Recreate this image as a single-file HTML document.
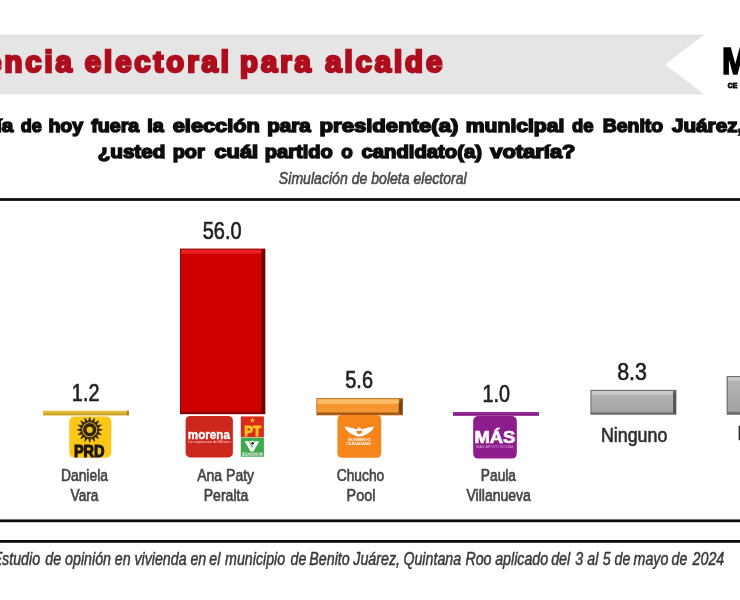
<!DOCTYPE html>
<html lang="es">
<head>
<meta charset="utf-8">
<title>Preferencia electoral para alcalde</title>
<style>
html,body{margin:0;padding:0;background:#fff;}
body{width:740px;height:600px;overflow:hidden;font-family:"Liberation Sans",Arial,sans-serif;}
svg{display:block;font-family:"Liberation Sans",Arial,sans-serif;}
</style>
</head>
<body>
<svg width="740" height="600" viewBox="0 0 740 600">
<defs>
<filter id="soft" x="-2%" y="-2%" width="104%" height="104%"><feGaussianBlur stdDeviation="0.55"/></filter>
<filter id="soft2" x="-5%" y="-5%" width="110%" height="110%"><feGaussianBlur stdDeviation="0.6"/></filter>
<linearGradient id="gPrd" x1="0" y1="0" x2="0" y2="1"><stop offset="0" stop-color="#ecc845"/><stop offset="1" stop-color="#c9981a"/></linearGradient>
<linearGradient id="gMas" x1="0" y1="0" x2="0" y2="1"><stop offset="0" stop-color="#a02aa0"/><stop offset="1" stop-color="#7c147c"/></linearGradient>
<linearGradient id="gGray" x1="0" y1="0" x2="0" y2="1"><stop offset="0" stop-color="#b6b6b6"/><stop offset="1" stop-color="#a2a2a2"/></linearGradient>
<linearGradient id="gMc" x1="0" y1="0" x2="0" y2="1"><stop offset="0" stop-color="#f9a648"/><stop offset="0.5" stop-color="#f6932c"/><stop offset="1" stop-color="#f59a38"/></linearGradient>
</defs>
<rect width="740" height="600" fill="#ffffff"/>
<g id="banner" filter="url(#soft2)">
<polygon points="-5,34.5 704.5,34.5 665,64.5 704.5,94.5 -5,94.5" fill="#e5e5e5"/>
</g>
<g id="rules" filter="url(#soft2)">
<rect x="-5" y="198.1" width="750" height="2.8" fill="#0d0d0d"/>
<rect x="-5" y="519.4" width="750" height="2.8" fill="#0d0d0d"/>
<rect x="-5" y="540.0" width="750" height="2.8" fill="#0d0d0d"/>
</g>
<g id="bars" filter="url(#soft2)">
<!-- PRD 1.2 -->
<rect x="43" y="410.7" width="85.6" height="4.7" fill="url(#gPrd)"/>
<rect x="127.2" y="410.7" width="1.5" height="4.7" fill="#8f6f14"/>
<!-- Morena 56.0 -->
<rect x="180" y="248.6" width="85.2" height="165.6" fill="#8a0000"/>
<rect x="180.8" y="249.6" width="80.4" height="162.1" fill="#cf0404"/>
<rect x="181.2" y="249.8" width="80" height="3.7" fill="#e82424"/>
<polygon points="261.2,253.4 265.2,248.6 265.2,414.2 261.2,411.7" fill="#6e0000"/>
<!-- MC 5.6 -->
<rect x="316.4" y="398.2" width="86.2" height="17.1" fill="#a85c14"/>
<rect x="317.2" y="399" width="81.6" height="13.4" fill="url(#gMc)"/>
<rect x="317.6" y="399.6" width="81" height="4.2" fill="#fbbd6a"/>
<polygon points="398.8,403.6 402.6,398.2 402.6,415.3 398.8,412.4" fill="#7d430c"/>
<!-- MAS 1.0 -->
<rect x="453" y="412.0" width="86" height="3.8" fill="url(#gMas)"/>
<!-- Ninguno 8.3 -->
<rect x="590.4" y="389.8" width="85.8" height="25" fill="#6e6e6e"/>
<rect x="591.5" y="390.9" width="81.7" height="21.5" fill="url(#gGray)"/>
<rect x="591.8" y="391.2" width="80.6" height="3.4" fill="#cacaca"/>
<polygon points="673.2,394.2 676.2,389.8 676.2,414.8 673.2,412.4" fill="#555555"/>
<!-- next bar -->
<rect x="726.6" y="376" width="20" height="38.8" fill="#6e6e6e"/>
<rect x="727.8" y="377.0" width="20" height="34.8" fill="url(#gGray)"/>
<rect x="728.1" y="377.3" width="20" height="3.4" fill="#cacaca"/>
</g>
<g id="icons" filter="url(#soft)">
<!-- PRD -->
<rect x="69.3" y="416.5" width="42" height="41.2" rx="5" fill="#fdc716"/>
<polygon points="89.70,416.80 91.34,421.56 94.67,417.79 94.37,422.82 98.89,420.61 96.68,425.13 101.71,424.83 97.94,428.16 102.70,429.80 97.94,431.44 101.71,434.77 96.68,434.47 98.89,438.99 94.37,436.78 94.67,441.81 91.34,438.04 89.70,442.80 88.06,438.04 84.73,441.81 85.03,436.78 80.51,438.99 82.72,434.47 77.69,434.77 81.46,431.44 76.70,429.80 81.46,428.16 77.69,424.83 82.72,425.13 80.51,420.61 85.03,422.82 84.73,417.79 88.06,421.56" fill="#33260a" stroke="#33260a" stroke-width="0.3"/>
<circle cx="89.7" cy="429.8" r="7.5" fill="#fdc716"/>
<circle cx="89.7" cy="429.8" r="6.7" fill="#33260a"/>
<circle cx="89.7" cy="429.8" r="3.1" fill="#f3bf1a"/>
<!-- Morena -->
<rect x="185.6" y="415.9" width="47.3" height="41.5" rx="4.5" fill="#cd271f"/>
<!-- PT -->
<rect x="240.8" y="416.4" width="23.1" height="20.9" fill="#db2a1b"/>
<polygon points="252.4,417.6 253.1,419.5 255.1,419.5 253.5,420.8 254.1,422.8 252.4,421.6 250.7,422.8 251.3,420.8 249.7,419.5 251.7,419.5" fill="#fbc81c"/>
<!-- Verde -->
<rect x="240.8" y="437.8" width="23.1" height="19" fill="#3dab49"/>
<path d="M244.6 441.2 L248.6 441.2 L252 448 L255.6 441.2 L259.2 441.2 L253.4 451.4 L250.6 451.4 Z" fill="#ffffff"/>
<path d="M249.5 441.6 C251 440.2 254.4 440.4 255.4 442.2 C254.6 444.6 252.4 446.2 251.6 445.4 Z" fill="#f4f4f4"/>
<circle cx="252.6" cy="443.2" r="1.3" fill="#1a1a1a"/>
<rect x="242.4" y="452.4" width="20" height="3.8" fill="#cfe6d0"/>
<!-- MC -->
<rect x="337.4" y="415.0" width="43.8" height="42.7" rx="4.5" fill="#f6851e"/>
<path d="M344.4 426.6 C349 427.4 353.5 427.8 356.6 429.6 L359.3 427 L362 429.6 C365 427.8 369.6 427.4 374.2 426.6 C372.4 430.8 368.4 434.4 363.6 435.4 C362.4 436.2 360.6 436.4 359.3 436.4 C358 436.4 356.2 436.2 355 435.4 C350.2 434.4 346.2 430.8 344.4 426.6 Z" fill="#ffffff"/>
<path d="M356.2 431.4 C357.4 430.2 358.4 430.2 359.3 431.6 C360.2 430.2 361.2 430.2 362.4 431.4 C361.8 433.2 360.4 434 359.3 434 C358.2 434 356.8 433.2 356.2 431.4 Z" fill="#f6851e"/>
<!-- MAS -->
<rect x="473.2" y="416.0" width="43.6" height="42.6" rx="5" fill="#8d1d8c"/>
</g>

<g id="labels" filter="url(#soft)">
<text transform="translate(0 72.20) scale(1.0209 1)" fill="#ad0e1b" stroke="#ad0e1b" stroke-width="2.5" vector-effect="non-scaling-stroke" style="font-size:28.6px;font-weight:bold;letter-spacing:2.939px"><tspan x="-114.80">Preferencia</tspan> <tspan x="83.06">electoral</tspan> <tspan x="235.18">para</tspan> <tspan x="318.55">alcalde</tspan></text>
<text y="131.60" fill="#111" stroke="#111" stroke-width="1.5" vector-effect="non-scaling-stroke" style="font-size:18.9px;font-weight:bold"><tspan x="-64.99" textLength="78.19" lengthAdjust="spacingAndGlyphs">Si el día</tspan> <tspan x="20.75" textLength="20.98" lengthAdjust="spacingAndGlyphs">de</tspan> <tspan x="48.41" textLength="34.82" lengthAdjust="spacingAndGlyphs">hoy</tspan> <tspan x="91.25" textLength="47.99" lengthAdjust="spacingAndGlyphs">fuera</tspan> <tspan x="147.20" textLength="16.53" lengthAdjust="spacingAndGlyphs">la</tspan> <tspan x="172.75" textLength="87.12" lengthAdjust="spacingAndGlyphs">elección</tspan> <tspan x="267.16" textLength="43.55" lengthAdjust="spacingAndGlyphs">para</tspan> <tspan x="319.58" textLength="138.71" lengthAdjust="spacingAndGlyphs">presidente(a)</tspan> <tspan x="465.83" textLength="98.51" lengthAdjust="spacingAndGlyphs">municipal</tspan> <tspan x="571.95" textLength="21.49" lengthAdjust="spacingAndGlyphs">de</tspan> <tspan x="602.72" textLength="60.48" lengthAdjust="spacingAndGlyphs">Benito</tspan> <tspan x="671.95" textLength="71.30" lengthAdjust="spacingAndGlyphs">Juárez,</tspan></text>
<text y="157.80" fill="#111" stroke="#111" stroke-width="1.5" vector-effect="non-scaling-stroke" style="font-size:18.9px;font-weight:bold"><tspan x="97.66" textLength="67.68" lengthAdjust="spacingAndGlyphs">¿usted</tspan> <tspan x="172.70" textLength="32.07" lengthAdjust="spacingAndGlyphs">por</tspan> <tspan x="214.45" textLength="43.74" lengthAdjust="spacingAndGlyphs">cuál</tspan> <tspan x="264.69" textLength="68.14" lengthAdjust="spacingAndGlyphs">partido</tspan> <tspan x="341.25" textLength="11.54" lengthAdjust="spacingAndGlyphs">o</tspan> <tspan x="361.45" textLength="120.61" lengthAdjust="spacingAndGlyphs">candidato(a)</tspan> <tspan x="490.25" textLength="85.23" lengthAdjust="spacingAndGlyphs">votaría?</tspan></text>
<text transform="translate(0 184.20) scale(0.8810 1)" x="316.55" fill="#4a4a4a" stroke="#4a4a4a" stroke-width="0.55" vector-effect="non-scaling-stroke" style="font-size:16px;font-style:italic">Simulación de boleta electoral</text>
<text transform="translate(0 564.60) scale(0.8050 1)" fill="#3a3a3a" stroke="#3a3a3a" stroke-width="0.5" vector-effect="non-scaling-stroke" style="font-size:17.7px;font-style:italic"><tspan x="-9.16">Estudio</tspan> <tspan x="56.29">de</tspan> <tspan x="80.90">opinión</tspan> <tspan x="142.69">en</tspan> <tspan x="166.97">vivienda</tspan> <tspan x="236.54">en</tspan> <tspan x="259.91">el</tspan> <tspan x="279.58">municipio</tspan> <tspan x="360.95">de</tspan> <tspan x="384.28">Benito</tspan> <tspan x="438.92">Juárez,</tspan> <tspan x="501.11">Quintana</tspan> <tspan x="578.17">Roo</tspan> <tspan x="615.11">aplicado</tspan> <tspan x="684.74">del</tspan> <tspan x="714.63">3</tspan> <tspan x="729.60">al</tspan> <tspan x="748.73">5</tspan> <tspan x="763.44">de</tspan> <tspan x="787.05">mayo</tspan> <tspan x="834.12">de</tspan> <tspan x="860.37">2024</tspan></text>
<text transform="translate(0 239.00) scale(0.8326 1)" x="243.47" fill="#1e1e1e" stroke="#1e1e1e" stroke-width="0.6" vector-effect="non-scaling-stroke" style="font-size:24px">56.0</text>
<text transform="translate(0 401.40) scale(0.8277 1)" x="86.83" fill="#1e1e1e" stroke="#1e1e1e" stroke-width="0.6" vector-effect="non-scaling-stroke" style="font-size:24px">1.2</text>
<text transform="translate(0 388.30) scale(0.8299 1)" x="416.07" fill="#1e1e1e" stroke="#1e1e1e" stroke-width="0.6" vector-effect="non-scaling-stroke" style="font-size:24px">5.6</text>
<text transform="translate(0 401.50) scale(0.8246 1)" x="585.10" fill="#1e1e1e" stroke="#1e1e1e" stroke-width="0.6" vector-effect="non-scaling-stroke" style="font-size:24px">1.0</text>
<text transform="translate(0 380.30) scale(0.8933 1)" x="690.92" fill="#1e1e1e" stroke="#1e1e1e" stroke-width="0.6" vector-effect="non-scaling-stroke" style="font-size:24px">8.3</text>
<text transform="translate(0 480.70) scale(0.8294 1)" x="73.52" fill="#444444" stroke="#444444" stroke-width="0.6" vector-effect="non-scaling-stroke" style="font-size:16.7px">Daniela</text>
<text transform="translate(0 501.20) scale(0.8178 1)" x="86.33" fill="#444444" stroke="#444444" stroke-width="0.6" vector-effect="non-scaling-stroke" style="font-size:16.7px">Vara</text>
<text transform="translate(0 480.50) scale(0.8409 1)" x="234.50" fill="#444444" stroke="#444444" stroke-width="0.6" vector-effect="non-scaling-stroke" style="font-size:16.7px">Ana Paty</text>
<text transform="translate(0 501.20) scale(0.8423 1)" x="241.90" fill="#444444" stroke="#444444" stroke-width="0.6" vector-effect="non-scaling-stroke" style="font-size:16.7px">Peralta</text>
<text transform="translate(0 480.70) scale(0.8264 1)" x="407.44" fill="#444444" stroke="#444444" stroke-width="0.6" vector-effect="non-scaling-stroke" style="font-size:16.7px">Chucho</text>
<text transform="translate(0 501.20) scale(0.8614 1)" x="402.41" fill="#444444" stroke="#444444" stroke-width="0.6" vector-effect="non-scaling-stroke" style="font-size:16.7px">Pool</text>
<text transform="translate(0 480.70) scale(0.8231 1)" x="584.21" fill="#444444" stroke="#444444" stroke-width="0.6" vector-effect="non-scaling-stroke" style="font-size:16.7px">Paula</text>
<text transform="translate(0 501.40) scale(0.8396 1)" x="555.62" fill="#444444" stroke="#444444" stroke-width="0.6" vector-effect="non-scaling-stroke" style="font-size:16.7px">Villanueva</text>
<text transform="translate(0 442.00) scale(0.8913 1)" x="674.22" fill="#2e2e2e" stroke="#2e2e2e" stroke-width="0.6" vector-effect="non-scaling-stroke" style="font-size:20px">Ninguno</text>
<text transform="translate(0 440.40) scale(0.8500 1)" x="867.59" fill="#2e2e2e" stroke="#2e2e2e" stroke-width="0.6" vector-effect="non-scaling-stroke" style="font-size:20.5px">No sabe</text>
<text transform="translate(0 74.40) scale(0.8500 1)" x="849.53" fill="#000" stroke="#000" stroke-width="1.6" vector-effect="non-scaling-stroke" style="font-size:37.4px;font-weight:bold">M</text>
<text transform="translate(0 87.70) scale(1.0000 1)" x="727.85" fill="#111" stroke="#111" stroke-width="0.9" vector-effect="non-scaling-stroke" style="font-size:6.8px;font-weight:bold">CE</text>
<text transform="translate(0 456.50) scale(0.8959 1)" x="82.55" fill="#1c1406" stroke="#1c1406" stroke-width="1.1" vector-effect="non-scaling-stroke" style="font-size:16.2px;font-weight:bold">PRD</text>
<text transform="translate(0 438.50) scale(0.9250 1)" x="203.04" fill="#ffffff" stroke="#ffffff" stroke-width="0.4" vector-effect="non-scaling-stroke" style="font-size:12.6px;font-weight:bold">morena</text>
<text transform="translate(0 442.60) scale(1.0828 1)" x="173.81" fill="#f7d5d2" style="font-size:3.6px">La esperanza de México</text>
<text transform="translate(0 435.50) scale(0.9262 1)" x="263.66" fill="#fbc522" stroke="#fbc522" stroke-width="1.0" vector-effect="non-scaling-stroke" style="font-size:14.2px;font-weight:bold">PT</text>
<text transform="translate(0 455.80) scale(1.1419 1)" x="213.15" fill="#5aa862" style="font-size:4.6px;font-weight:bold">VERDE</text>
<text transform="translate(0 441.20) scale(0.8909 1)" x="390.72" fill="#fff1e2" stroke="#fff1e2" stroke-width="0.15" vector-effect="non-scaling-stroke" style="font-size:3.9px">MOVIMIENTO</text>
<text transform="translate(0 445.00) scale(1.0104 1)" x="342.35" fill="#ffffff" style="font-size:4.1px;font-weight:bold">CIUDADANO</text>
<text transform="translate(0 443.20) scale(1.1087 1)" x="427.91" fill="#ffffff" stroke="#ffffff" stroke-width="0.7" vector-effect="non-scaling-stroke" style="font-size:16.6px;font-weight:bold">MÁS</text>
<text transform="translate(0 448.40) scale(1.3106 1)" x="363.49" fill="#d9a8d8" style="font-size:2.9px">MÁS APOYO SOCIAL</text>
</g>
</svg>
</body>
</html>
